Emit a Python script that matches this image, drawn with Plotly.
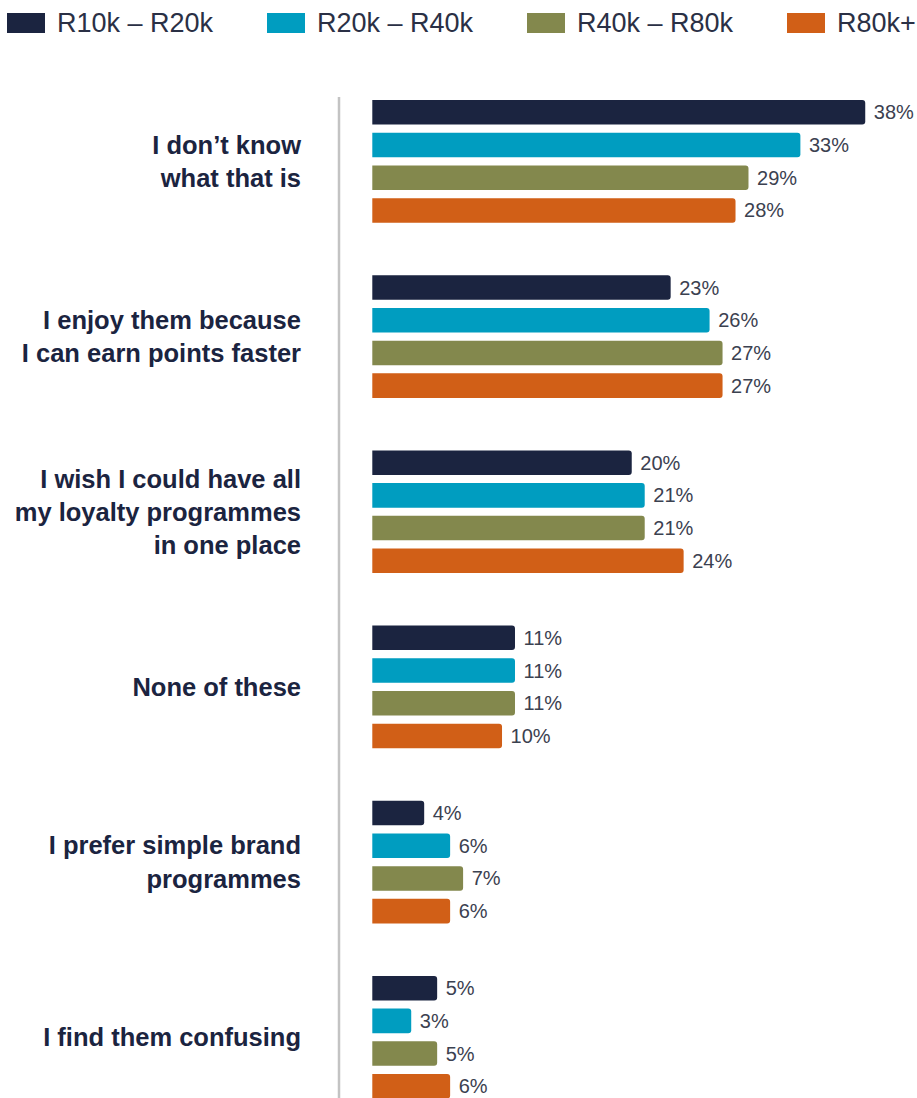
import plotly.graph_objects as go

# Survey responses by household income band
categories = [
    "I don’t know<br>what that is",
    "I enjoy them because<br>I can earn points faster",
    "I wish I could have all<br>my loyalty programmes<br>in one place",
    "None of these",
    "I prefer simple brand<br>programmes",
    "I find them confusing",
]
series_names = ["R10k – R20k", "R20k – R40k", "R40k – R80k", "R80k+"]
r10_20 = [38, 23, 20, 11, 4, 5]
r20_40 = [33, 26, 21, 11, 6, 3]
r40_80 = [29, 27, 21, 11, 7, 5]
r80_plus = [28, 27, 24, 10, 6, 6]
series_values = [r10_20, r20_40, r40_80, r80_plus]
colors = ["#1b2440", "#009dc0", "#83884d", "#d15f17"]

W, H = 917, 1098
L, R, T, B = 339, 0, 97, 0
PW, PH = W - L - R, H - T - B

LABEL_FONT = "Liberation Sans, Arial, sans-serif"

fig = go.Figure()
for name, vals, col in zip(series_names, series_values, colors):
    fig.add_trace(go.Bar(
        y=categories, x=vals, name=name, orientation="h",
        marker=dict(color=col, cornerradius=3, line=dict(width=0)),
        text=vals, texttemplate="\u00a0%{x}%", textposition="outside",
        textfont=dict(family=LABEL_FONT, size=20, color="#3b4150"),
        constraintext="none", cliponaxis=False, showlegend=False,
    ))

# Pixel helpers for layout items placed around the plot area
def px_x(px):
    return (px - L) / PW

def px_y(py):
    return (H - B - py) / PH

shapes = [
    # vertical baseline at the left edge of the plot area
    dict(type="line", xref="paper", yref="paper", x0=0, x1=0, y0=0, y1=1,
         line=dict(color="#c3c3c3", width=2.5)),
]
annotations = []
for i, (name, col) in enumerate(zip(series_names, colors)):
    x0 = 7 + 260 * i
    shapes.append(dict(
        type="rect", xref="paper", yref="paper",
        x0=px_x(x0), x1=px_x(x0 + 38), y0=px_y(33), y1=px_y(13),
        fillcolor=col, line=dict(width=0), layer="above",
    ))
    annotations.append(dict(
        xref="paper", yref="paper", x=px_x(x0 + 48), y=px_y(23),
        text=name, showarrow=False, xanchor="left", yanchor="middle",
        font=dict(family=LABEL_FONT, size=27, color="#2a3045"),
    ))

fig.update_layout(
    width=W, height=H,
    margin=dict(l=L, r=R, t=T, b=B),
    paper_bgcolor="white", plot_bgcolor="white",
    barmode="group", bargap=0.253, bargroupgap=0.25,
    shapes=shapes, annotations=annotations,
    xaxis=dict(range=[-2.567, 41.99], showgrid=False, zeroline=False,
               showticklabels=False, showline=False),
    yaxis=dict(range=[5.347, -0.3677], showgrid=False, zeroline=False,
               showline=False, ticks="", ticklabelstandoff=37,
               tickfont=dict(family=LABEL_FONT, size=25.5, color="#1b2440",
                             weight="bold")),
)

fig.write_html("out.html")
